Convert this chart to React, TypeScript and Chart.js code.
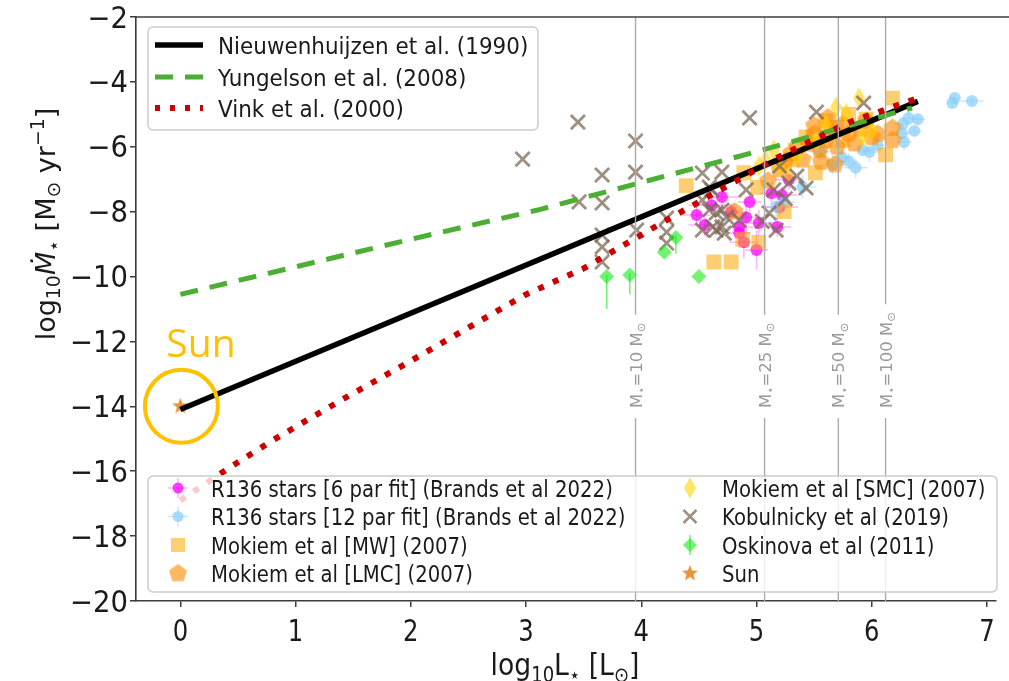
import React, { useEffect, useRef } from 'react';
import { Chart, registerables } from 'chart.js';

Chart.register(...registerables);

const W = 1009;
const H = 681;

// Axes
const X_MIN = -0.385;
const X_MAX = 7.08;
const Y_MIN = -20;
const Y_MAX = -2;
const X_TICKS = [0, 1, 2, 3, 4, 5, 6, 7];
const Y_TICKS = [-20, -18, -16, -14, -12, -10, -8, -6, -4, -2];

// Mass-loss prescriptions (log L vs log Mdot)
const NIEUW_X = [0, 6.4];
const NIEUW_Y = [-14.1, -4.6];
const YUNG_X = [0, 1, 2, 3.1, 4, 5, 6.35];
const YUNG_Y = [-10.55, -9.7, -8.85, -7.95, -7.1, -6.15, -4.8];
const VINK_X = [0, 0.4, 0.8, 1.4, 2.0, 3.0, 3.5, 4.2, 4.6, 5.2, 5.8, 6.4];
const VINK_Y = [-16.9, -15.95, -15.05, -13.8, -12.6, -10.55, -9.75, -8.3, -7.5, -6.3, -5.25, -4.5];

// Stellar mass markers
const MASS_X = [3.95, 5.07, 5.71, 6.12];
const MASS_LABELS = ['10', '25', '50', '100'];

// R136 stars, 6 parameter fit
const R6_X = [4.48, 4.7, 4.78, 4.91, 4.85, 4.94, 5.02, 5.18, 5.13, 5.22, 4.85, 5.2, 4.61, 4.89, 5.0, 4.55, 5.28];
const R6_Y = [-8.1, -7.55, -8.01, -8.17, -8.47, -7.7, -8.35, -8.47, -7.43, -7.49, -8.66, -7.86, -7.8, -8.94, -9.18, -8.41, -7.02];
const R6_XERR = [0.12, 0.15, 0.1, 0.18, 0.12, 0.1, 0.15, 0.12, 0.1, 0.14, 0.1, 0.16, 0.2, 0.12, 0.1, 0.14, 0.12];
const R6_YERR = [0.3, 0.4, 0.25, 0.5, 0.35, 0.3, 0.4, 0.3, 0.35, 0.25, 0.45, 0.3, 0.3, 0.5, 0.6, 0.35, 0.3];

// R136 stars, 12 parameter fit
const R12_X = [6.72, 6.7, 6.87, 6.32, 6.4, 6.27, 6.37, 6.26, 6.28, 5.98, 5.92, 5.86, 5.74, 5.66, 5.4, 5.24, 5.17, 5.8, 6.05, 5.55];
const R12_Y = [-4.5, -4.65, -4.59, -5.11, -5.15, -5.3, -5.51, -5.58, -5.85, -6.16, -6.1, -6.65, -6.32, -6.56, -7.24, -7.7, -7.86, -6.45, -5.95, -6.15];
const R12_XERR = [0.05, 0.05, 0.1, 0.08, 0.06, 0.08, 0.06, 0.08, 0.07, 0.1, 0.08, 0.1, 0.08, 0.1, 0.12, 0.1, 0.1, 0.08, 0.06, 0.1];
const R12_YERR = [0.15, 0.15, 0.12, 0.2, 0.15, 0.2, 0.15, 0.2, 0.25, 0.3, 0.2, 0.3, 0.25, 0.3, 0.35, 0.3, 0.3, 0.25, 0.2, 0.3];

// Mokiem et al. (2007) samples
const MW_X = [4.39, 4.63, 4.78, 4.88, 5.02, 4.89, 5.01, 5.24, 5.43, 5.6, 5.69, 5.51, 6.12, 6.18, 5.3, 5.8, 5.95, 5.75];
const MW_Y = [-7.2, -9.55, -9.55, -8.85, -8.95, -6.8, -7.25, -8.0, -5.7, -5.2, -5.4, -6.8, -6.25, -4.5, -6.4, -5.0, -5.15, -5.8];
const LMC_X = [4.81, 5.1, 5.2, 5.25, 5.3, 5.35, 5.4, 5.45, 5.5, 5.55, 5.56, 5.6, 5.65, 5.68, 5.7, 5.75, 5.8, 5.85, 5.9, 5.95, 6.0, 6.05, 6.18, 6.18, 5.62, 5.5];
const LMC_Y = [-8.0, -7.05, -6.7, -6.45, -6.2, -6.0, -6.4, -5.9, -5.6, -6.1, -6.47, -5.8, -5.5, -6.55, -6.0, -5.3, -5.6, -5.9, -5.45, -5.2, -5.7, -5.6, -5.42, -5.8, -5.1, -5.35];
const SMC_X = [5.69, 5.89, 5.08, 5.28, 5.92, 5.52, 5.2, 5.02, 5.78, 6.0, 5.35, 5.6, 5.15];
const SMC_Y = [-4.77, -4.5, -6.4, -6.87, -5.7, -5.8, -6.6, -6.6, -4.97, -5.5, -6.3, -5.3, -6.1];

// Kobulnicky et al. (2019)
const KOB_X = [2.97, 3.45, 3.95, 3.95, 3.66, 3.66, 3.46, 3.66, 3.66, 3.66, 3.96, 4.22, 4.22, 4.22, 4.53, 4.7, 4.59, 4.53, 4.65, 4.7, 4.53, 4.94, 5.52, 5.93, 4.61, 4.59, 4.7, 4.62, 4.72, 5.15, 5.11, 5.17, 5.43, 5.28, 4.91, 4.85, 4.74, 4.65, 5.05, 5.25, 5.35, 5.2];
const KOB_Y = [-6.38, -5.24, -5.82, -6.78, -6.87, -7.73, -7.7, -8.72, -9.09, -9.55, -8.57, -8.2, -8.63, -8.97, -6.81, -6.78, -7.24, -7.64, -8.04, -8.47, -8.57, -5.11, -4.93, -4.65, -7.33, -7.95, -7.95, -8.47, -8.66, -7.33, -8.04, -8.57, -7.27, -7.12, -7.33, -8.26, -8.17, -8.57, -8.3, -7.6, -6.9, -6.6];

// Oskinova et al. (2011)
const OSK_X = [3.7, 3.9, 4.2, 4.3, 4.5];
const OSK_Y = [-10.0, -9.95, -9.25, -8.8, -10.0];
const OSK_ERR_LO = [1.0, 0.6, 0.0, 0.5, 0.0];
const OSK_ERR_HI = [0.05, 0.05, 0.0, 0.1, 0.0];

// The Sun
const SUN_X = [0];
const SUN_Y = [-14];

const TOP_LEGEND = ['Nieuwenhuijzen et al. (1990)', 'Yungelson et al. (2008)', 'Vink et al. (2000)'];
const LEFT_LEGEND = [
  'R136 stars [6 par fit] (Brands et al 2022)',
  'R136 stars [12 par fit] (Brands et al 2022)',
  'Mokiem et al [MW] (2007)',
  'Mokiem et al [LMC] (2007)',
];
const RIGHT_LEGEND = ['Mokiem et al [SMC] (2007)', 'Kobulnicky et al (2019)', 'Oskinova et al (2011)', 'Sun'];

const FAMILY = "'DejaVu Sans', 'Liberation Sans', sans-serif";
const AXIS = '#3c3c3c';
const TEXT = '#1a1a1a';

const C_BLACK = '#000000';
const C_GREEN = '#4cae34';
const C_RED = '#cc0000';
const C_MAG = 'rgba(255,0,255,0.75)';
const C_MAG_ERR = 'rgba(255,0,255,0.3)';
const C_BLUE = 'rgba(135,206,250,0.7)';
const C_BLUE_ERR = 'rgba(135,206,250,0.45)';
const C_MW = 'rgba(255,165,0,0.55)';
const C_LMC = 'rgba(255,140,0,0.62)';
const C_SMC = 'rgba(255,210,0,0.6)';
const C_KOB = 'rgba(125,105,85,0.75)';
const C_OSK = 'rgba(20,235,20,0.6)';
const C_SUN = '#e8923a';
const C_NOTE = '#ffc000';

type Seg = { t: string; size: number; dy?: number; style?: string };

function drawRich(
  ctx: CanvasRenderingContext2D,
  segs: Seg[],
  x: number,
  y: number,
  o: { align?: 'left' | 'center' | 'right'; rot?: number; sx?: number; sy?: number; color: string; family?: string }
) {
  const fam = o.family ?? FAMILY;
  ctx.save();
  ctx.translate(x, y);
  if (o.rot) ctx.rotate(o.rot);
  ctx.scale(o.sx ?? 1, o.sy ?? 1);
  ctx.fillStyle = o.color;
  ctx.textBaseline = 'alphabetic';
  ctx.textAlign = 'left';
  const widths = segs.map((s) => {
    ctx.font = `${s.style ?? ''} ${s.size}px ${fam}`.trim();
    return ctx.measureText(s.t).width;
  });
  const total = widths.reduce((a, b) => a + b, 0);
  let cx = o.align === 'center' ? -total / 2 : o.align === 'right' ? -total : 0;
  segs.forEach((s, i) => {
    ctx.font = `${s.style ?? ''} ${s.size}px ${fam}`.trim();
    ctx.fillText(s.t, cx, s.dy ?? 0);
    cx += widths[i];
  });
  ctx.restore();
  return total * (o.sx ?? 1);
}

function polyPoints(n: number, r: number, inner?: number): [number, number][] {
  const pts: [number, number][] = [];
  const count = inner ? n * 2 : n;
  for (let i = 0; i < count; i++) {
    const a = -Math.PI / 2 + (i * 2 * Math.PI) / count;
    const rr = inner && i % 2 === 1 ? inner : r;
    pts.push([Math.cos(a) * rr, Math.sin(a) * rr]);
  }
  return pts;
}

function shapeCanvas(pts: [number, number][], size: number, fill: string) {
  const c = document.createElement('canvas');
  c.width = size;
  c.height = size;
  const g = c.getContext('2d')!;
  g.fillStyle = fill;
  g.beginPath();
  pts.forEach(([px, py], i) => {
    if (i === 0) g.moveTo(size / 2 + px, size / 2 + py);
    else g.lineTo(size / 2 + px, size / 2 + py);
  });
  g.closePath();
  g.fill();
  return c;
}

const pts = (xs: number[], ys: number[]) => xs.map((x, i) => ({ x, y: ys[i] }));

export default function App() {
  const ref = useRef<HTMLCanvasElement | null>(null);

  useEffect(() => {
    const canvas = ref.current;
    if (!canvas) return;

    const pentagon = shapeCanvas(polyPoints(5, 9.5), 22, C_LMC);
    const thinDiamond = shapeCanvas(
      [
        [0, -10.5],
        [6, 0],
        [0, 10.5],
        [-6, 0],
      ],
      24,
      C_SMC
    );
    const star = shapeCanvas(polyPoints(5, 8.5, 3.6), 20, C_SUN);

    const errorSets = [
      { xs: R12_X, ys: R12_Y, xe: R12_XERR, lo: R12_YERR, hi: R12_YERR, color: C_BLUE_ERR },
      { xs: R6_X, ys: R6_Y, xe: R6_XERR, lo: R6_YERR, hi: R6_YERR, color: C_MAG_ERR },
      { xs: OSK_X, ys: OSK_Y, xe: OSK_X.map(() => 0), lo: OSK_ERR_LO, hi: OSK_ERR_HI, color: C_OSK },
    ];

    const errorBars = {
      id: 'errorBars',
      beforeDatasetsDraw(chart: any) {
        const { ctx, chartArea: a, scales } = chart;
        const sx = scales.x;
        const sy = scales.y;
        ctx.save();
        ctx.beginPath();
        ctx.rect(a.left, a.top, a.right - a.left, a.bottom - a.top);
        ctx.clip();
        ctx.lineWidth = 1.5;
        errorSets.forEach((s) => {
          ctx.strokeStyle = s.color;
          s.xs.forEach((x, i) => {
            const y = s.ys[i];
            ctx.beginPath();
            if (s.xe[i] > 0) {
              ctx.moveTo(sx.getPixelForValue(x - s.xe[i]), sy.getPixelForValue(y));
              ctx.lineTo(sx.getPixelForValue(x + s.xe[i]), sy.getPixelForValue(y));
            }
            if (s.lo[i] > 0 || s.hi[i] > 0) {
              ctx.moveTo(sx.getPixelForValue(x), sy.getPixelForValue(y - s.lo[i]));
              ctx.lineTo(sx.getPixelForValue(x), sy.getPixelForValue(y + s.hi[i]));
            }
            ctx.stroke();
          });
        });
        ctx.restore();
      },
    };

    const drawMarker = (ctx: CanvasRenderingContext2D, kind: string, x: number, y: number) => {
      ctx.save();
      if (kind === 'r6' || kind === 'r12') {
        ctx.strokeStyle = kind === 'r6' ? C_MAG_ERR : C_BLUE_ERR;
        ctx.lineWidth = 1.5;
        ctx.beginPath();
        ctx.moveTo(x - 10, y);
        ctx.lineTo(x + 10, y);
        ctx.moveTo(x, y - 10);
        ctx.lineTo(x, y + 10);
        ctx.stroke();
        ctx.fillStyle = kind === 'r6' ? C_MAG : C_BLUE;
        ctx.beginPath();
        ctx.arc(x, y, 5.5, 0, Math.PI * 2);
        ctx.fill();
      } else if (kind === 'mw') {
        ctx.fillStyle = C_MW;
        ctx.fillRect(x - 7, y - 7, 14, 14);
      } else if (kind === 'lmc') {
        ctx.drawImage(pentagon, x - 11, y - 11);
      } else if (kind === 'smc') {
        ctx.drawImage(thinDiamond, x - 12, y - 12);
      } else if (kind === 'kob') {
        ctx.strokeStyle = C_KOB;
        ctx.lineWidth = 2.5;
        ctx.beginPath();
        ctx.moveTo(x - 6.5, y - 6.5);
        ctx.lineTo(x + 6.5, y + 6.5);
        ctx.moveTo(x + 6.5, y - 6.5);
        ctx.lineTo(x - 6.5, y + 6.5);
        ctx.stroke();
      } else if (kind === 'osk') {
        ctx.strokeStyle = C_OSK;
        ctx.lineWidth = 1.5;
        ctx.beginPath();
        ctx.moveTo(x, y - 10);
        ctx.lineTo(x, y + 10);
        ctx.stroke();
        ctx.fillStyle = C_OSK;
        ctx.beginPath();
        ctx.moveTo(x, y - 7);
        ctx.lineTo(x + 7, y);
        ctx.lineTo(x, y + 7);
        ctx.lineTo(x - 7, y);
        ctx.closePath();
        ctx.fill();
      } else if (kind === 'sun') {
        ctx.drawImage(star, x - 10, y - 10);
      }
      ctx.restore();
    };

    const legendBox = (ctx: CanvasRenderingContext2D, x0: number, y0: number, x1: number, y1: number) => {
      ctx.save();
      ctx.fillStyle = 'rgba(255,255,255,0.8)';
      ctx.strokeStyle = '#cccccc';
      ctx.lineWidth = 1.5;
      ctx.beginPath();
      ctx.roundRect(x0, y0, x1 - x0, y1 - y0, 5);
      ctx.fill();
      ctx.stroke();
      ctx.restore();
    };

    const decor = {
      id: 'decor',
      afterDatasetsDraw(chart: any) {
        const { ctx, chartArea: a, scales } = chart;
        // constant-mass guide lines with rotated labels
        MASS_X.forEach((mx, i) => {
          const px = scales.x.getPixelForValue(mx);
          const base = 408;
          ctx.save();
          const segs: Seg[] = [
            { t: 'M', size: 16.5 },
            { t: '⋆', size: 11.5, dy: 3.5 },
            { t: '=' + MASS_LABELS[i] + ' M', size: 16.5 },
            { t: '⊙', size: 11.5, dy: 3.5 },
          ];
          const tw = drawRich(ctx, segs, px + 6, base, { rot: -Math.PI / 2, color: '#999999' });
          ctx.strokeStyle = '#ababab';
          ctx.lineWidth = 1.4;
          ctx.beginPath();
          ctx.moveTo(px, a.top);
          ctx.lineTo(px, base - tw - 8);
          ctx.moveTo(px, base + 10);
          ctx.lineTo(px, a.bottom);
          ctx.stroke();
          ctx.restore();
        });
      },
      afterDraw(chart: any) {
        const { ctx, chartArea: a, scales } = chart;
        const sx = scales.x;
        const sy = scales.y;

        // top spine
        ctx.save();
        ctx.strokeStyle = AXIS;
        ctx.lineWidth = 1.6;
        ctx.beginPath();
        ctx.moveTo(a.left - 0.8, a.top);
        ctx.lineTo(W, a.top);
        ctx.stroke();
        ctx.restore();

        // tick labels
        Y_TICKS.forEach((v) => {
          const label = (v < 0 ? '\u2212' : '') + Math.abs(v);
          drawRich(ctx, [{ t: label, size: 27.5 }], a.left - 8, sy.getPixelForValue(v) + 10.5, {
            align: 'right',
            color: TEXT,
            sy: 1.08,
          });
        });
        X_TICKS.forEach((v) => {
          drawRich(ctx, [{ t: String(v), size: 27 }], sx.getPixelForValue(v), 641, {
            align: 'center',
            color: TEXT,
            sx: 0.9,
            sy: 1.12,
          });
        });

        // axis titles
        drawRich(
          ctx,
          [
            { t: 'log', size: 28 },
            { t: '10', size: 19, dy: 6 },
            { t: 'L', size: 28 },
            { t: '⋆', size: 19, dy: 6 },
            { t: ' [L', size: 28 },
            { t: '⊙', size: 19, dy: 6 },
            { t: ']', size: 28 },
          ],
          565,
          675,
          { align: 'center', color: TEXT, sx: 0.95, sy: 1.1 }
        );
        drawRich(
          ctx,
          [
            { t: 'log', size: 25 },
            { t: '10', size: 17.5, dy: 5 },
            { t: 'Ṁ', size: 25, style: 'italic' },
            { t: '⋆', size: 17.5, dy: 5 },
            { t: ' [M', size: 25 },
            { t: '⊙', size: 17.5, dy: 5 },
            { t: ' yr', size: 25 },
            { t: '\u22121', size: 17.5, dy: -10 },
            { t: ']', size: 25 },
          ],
          55,
          224,
          { align: 'center', rot: -Math.PI / 2, color: TEXT, sx: 1.08, sy: 1.08 }
        );

        // top legend: prescriptions
        legendBox(ctx, 148, 27, 538, 130);
        const topRows = [45, 77, 108];
        const lineStyles = [
          { c: C_BLACK, w: 5.5, d: [] as number[] },
          { c: C_GREEN, w: 5, d: [18, 12] },
          { c: C_RED, w: 6, d: [5, 10] },
        ];
        TOP_LEGEND.forEach((t, i) => {
          const y = topRows[i];
          const st = lineStyles[i];
          ctx.save();
          ctx.strokeStyle = st.c;
          ctx.lineWidth = st.w;
          ctx.lineCap = 'butt';
          ctx.setLineDash(st.d);
          ctx.beginPath();
          ctx.moveTo(155, y);
          ctx.lineTo(203, y);
          ctx.stroke();
          ctx.restore();
          drawRich(ctx, [{ t, size: 21.5 }], 218, y + 8.5, { color: TEXT, sy: 1.06 });
        });

        // bottom legend: observations
        legendBox(ctx, 148, 476, 997, 592);
        const rows = [488, 516.5, 545, 573.5];
        const leftKinds = ['r6', 'r12', 'mw', 'lmc'];
        const rightKinds = ['smc', 'kob', 'osk', 'sun'];
        LEFT_LEGEND.forEach((t, i) => {
          drawMarker(ctx, leftKinds[i], 178, rows[i]);
          drawRich(ctx, [{ t, size: 20.3 }], 211, rows[i] + 8.5, { color: TEXT, sx: 0.97, sy: 1.15 });
        });
        RIGHT_LEGEND.forEach((t, i) => {
          drawMarker(ctx, rightKinds[i], 690, rows[i]);
          drawRich(ctx, [{ t, size: 20.3 }], 722, rows[i] + 8.5, { color: TEXT, sx: 0.97, sy: 1.15 });
        });

        // annotation around the Sun
        const spx = sx.getPixelForValue(SUN_X[0]);
        const spy = sy.getPixelForValue(SUN_Y[0]);
        ctx.save();
        ctx.strokeStyle = C_NOTE;
        ctx.lineWidth = 4;
        ctx.beginPath();
        ctx.arc(spx + 1, spy, 36.5, 0, Math.PI * 2);
        ctx.stroke();
        ctx.restore();
        drawRich(ctx, [{ t: 'Sun', size: 39 }], spx - 14, spy - 49, {
          color: C_NOTE,
          family: "'Open Sans', 'Lato', sans-serif",
        });
      },
    };

    const chart = new Chart(canvas, {
      type: 'scatter',
      data: {
        datasets: [
          {
            label: TOP_LEGEND[2],
            data: pts(VINK_X, VINK_Y),
            showLine: true,
            borderColor: C_RED,
            borderWidth: 6,
            borderDash: [6, 10],
            borderCapStyle: 'butt',
            pointRadius: 0,
            order: 1,
          },
          {
            label: TOP_LEGEND[1],
            data: pts(YUNG_X, YUNG_Y),
            showLine: true,
            borderColor: C_GREEN,
            borderWidth: 5,
            borderDash: [18, 12],
            borderCapStyle: 'butt',
            pointRadius: 0,
            order: 2,
          },
          {
            label: TOP_LEGEND[0],
            data: pts(NIEUW_X, NIEUW_Y),
            showLine: true,
            borderColor: C_BLACK,
            borderWidth: 5.5,
            pointRadius: 0,
            order: 3,
          },
          {
            label: RIGHT_LEGEND[3],
            data: pts(SUN_X, SUN_Y),
            pointStyle: star,
            pointRadius: 9,
            order: 10,
          },
          {
            label: RIGHT_LEGEND[2],
            data: pts(OSK_X, OSK_Y),
            pointStyle: 'rectRot',
            pointRadius: 7.5,
            pointBackgroundColor: C_OSK,
            pointBorderWidth: 0,
            order: 11,
          },
          {
            label: RIGHT_LEGEND[1],
            data: pts(KOB_X, KOB_Y),
            pointStyle: 'crossRot',
            pointRadius: 10,
            pointBorderColor: C_KOB,
            pointBorderWidth: 2.8,
            order: 12,
          },
          {
            label: RIGHT_LEGEND[0],
            data: pts(SMC_X, SMC_Y),
            pointStyle: thinDiamond,
            pointRadius: 11,
            order: 13,
          },
          {
            label: LEFT_LEGEND[3],
            data: pts(LMC_X, LMC_Y),
            pointStyle: pentagon,
            pointRadius: 11,
            order: 14,
          },
          {
            label: LEFT_LEGEND[2],
            data: pts(MW_X, MW_Y),
            pointStyle: 'rect',
            pointRadius: 10.5,
            pointBackgroundColor: C_MW,
            pointBorderWidth: 0,
            order: 15,
          },
          {
            label: LEFT_LEGEND[1],
            data: pts(R12_X, R12_Y),
            pointStyle: 'circle',
            pointRadius: 6,
            pointBackgroundColor: C_BLUE,
            pointBorderWidth: 0,
            order: 16,
          },
          {
            label: LEFT_LEGEND[0],
            data: pts(R6_X, R6_Y),
            pointStyle: 'circle',
            pointRadius: 6,
            pointBackgroundColor: C_MAG,
            pointBorderWidth: 0,
            order: 17,
          },
        ] as any,
      },
      options: {
        animation: false,
        responsive: false,
        maintainAspectRatio: false,
        devicePixelRatio: 1,
        events: [],
        layout: { padding: { top: 17, left: 0, right: 0, bottom: 0 } },
        plugins: { legend: { display: false }, tooltip: { enabled: false } },
        scales: {
          x: {
            type: 'linear',
            min: X_MIN,
            max: X_MAX,
            afterBuildTicks: (s: any) => {
              s.ticks = X_TICKS.map((v) => ({ value: v }));
            },
            afterFit: (s: any) => {
              s.height = 80;
            },
            ticks: { display: false },
            grid: { drawOnChartArea: false, drawTicks: true, tickLength: 6, color: AXIS, lineWidth: 1.5 },
            border: { display: true, color: AXIS, width: 1.6 },
          },
          y: {
            type: 'linear',
            min: Y_MIN,
            max: Y_MAX,
            afterBuildTicks: (s: any) => {
              s.ticks = Y_TICKS.map((v) => ({ value: v }));
            },
            afterFit: (s: any) => {
              s.width = 136;
            },
            ticks: { display: false },
            grid: { drawOnChartArea: false, drawTicks: true, tickLength: 6, color: AXIS, lineWidth: 1.5 },
            border: { display: true, color: AXIS, width: 1.6 },
          },
        },
      } as any,
      plugins: [errorBars, decor],
    });

    return () => chart.destroy();
  }, []);

  return (
    <div style={{ position: 'fixed', left: 0, top: 0, width: W, height: H, background: '#ffffff', overflow: 'hidden' }}>
      <canvas ref={ref} width={W} height={H} style={{ display: 'block', width: W, height: H }} />
    </div>
  );
}
